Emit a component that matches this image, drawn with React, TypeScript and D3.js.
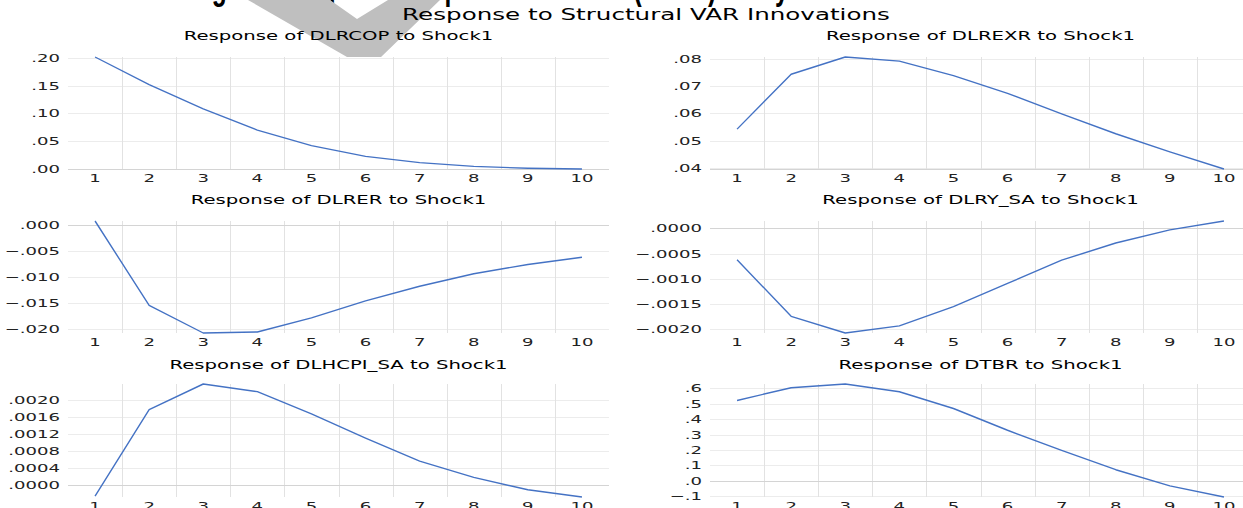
import React, { useEffect, useRef } from "react";
import * as d3 from "d3";

// periods after the shock
const steps = [1, 2, 3, 4, 5, 6, 7, 8, 9, 10];

// impulse responses
const dlrcop = [0.2018, 0.152, 0.108, 0.0697, 0.0418, 0.0224, 0.011, 0.0042, 0.0008, -0.0005];
const dlrexr = [0.0542, 0.0743, 0.0806, 0.0791, 0.0738, 0.0673, 0.0598, 0.0525, 0.0459, 0.0396];
const dlrer = [0.00077, -0.0155, -0.0208, -0.0206, -0.0179, -0.0146, -0.0118, -0.0094, -0.0076, -0.0062];
const dlry = [-0.00062, -0.00174, -0.00207, -0.00193, -0.00155, -0.00109, -0.00063, -0.00029, -0.00003, 0.000145];
const dlhcpi = [-0.00025, 0.00178, 0.00238, 0.0022, 0.00168, 0.00111, 0.00057, 0.00019, -0.0001, -0.00027];
const dtbr = [0.521, 0.604, 0.628, 0.578, 0.469, 0.328, 0.197, 0.072, -0.033, -0.105];

// y tick values
const ticksDlrcop = [0, 0.05, 0.1, 0.15, 0.2];
const ticksDlrexr = [0.04, 0.05, 0.06, 0.07, 0.08];
const ticksDlrer = [-0.02, -0.015, -0.01, -0.005, 0];
const ticksDlry = [-0.002, -0.0015, -0.001, -0.0005, 0];
const ticksDlhcpi = [0, 0.0004, 0.0008, 0.0012, 0.0016, 0.002];
const ticksDtbr = [-0.1, 0, 0.1, 0.2, 0.3, 0.4, 0.5, 0.6];

const panels = [
  { title: "Response of DLRCOP to Shock1", values: dlrcop, ticks: ticksDlrcop, digits: 2 },
  { title: "Response of DLREXR to Shock1", values: dlrexr, ticks: ticksDlrexr, digits: 2 },
  { title: "Response of DLRER to Shock1", values: dlrer, ticks: ticksDlrer, digits: 3 },
  { title: "Response of DLRY_SA to Shock1", values: dlry, ticks: ticksDlry, digits: 4 },
  { title: "Response of DLHCPI_SA to Shock1", values: dlhcpi, ticks: ticksDlhcpi, digits: 4 },
  { title: "Response of DTBR to Shock1", values: dtbr, ticks: ticksDtbr, digits: 1 },
];

const W = 1243;
const H = 508;
const SX = 1.64; // the picture is stretched sideways
const FONT = "DejaVu Sans";
const cols = [68, 710];
const plotW = 541;
const rows = [
  { top: 57, bottom: 169, titleY: 36 },
  { top: 221, bottom: 333, titleY: 200 },
  { top: 384, bottom: 497, titleY: 365 },
];

const fmt = (v, d) => d3.format(`.${d}f`)(v).replace("0.", ".");

export default function App() {
  const ref = useRef(null);

  useEffect(() => {
    const svg = d3.select(ref.current);
    svg.selectAll("*").remove();

    svg.append("rect").attr("width", W).attr("height", H).attr("fill", "#fff");

    // main title, cut off by the top edge
    svg
      .append("text")
      .attr("transform", "translate(190,-1) scale(0.98,1.5)")
      .attr("font-family", "Liberation Sans")
      .attr("font-weight", "bold")
      .attr("font-size", 25)
      .attr("fill", "#000")
      .text("Figure 4: Impulse Response Function (SVAR) Analysis");

    // grey watermark chevron
    svg
      .append("polygon")
      .attr("points", "248,0 330,0 357,19 388,0 440,0 381,57 347,57")
      .attr("fill", "#bfbfbf");

    const stretched = (g, x, y, size, anchor, txt, color = "#000") =>
      g
        .append("text")
        .attr("transform", `translate(${x},${y}) scale(${SX},1)`)
        .attr("text-anchor", anchor)
        .attr("font-family", FONT)
        .attr("font-size", size)
        .attr("fill", color)
        .text(txt);

    panels.forEach((p, i) => {
      const x0 = cols[i % 2];
      const row = rows[Math.floor(i / 2)];
      const g = svg.append("g");

      const x = d3
        .scaleBand()
        .domain(steps.map(String))
        .range([x0, x0 + plotW]);
      const y = d3
        .scaleLinear()
        .domain(d3.extent(p.values))
        .range([row.bottom, row.top]);

      g.append("rect")
        .attr("x", x0)
        .attr("y", row.top)
        .attr("width", plotW)
        .attr("height", row.bottom - row.top)
        .attr("fill", "#fff");

      // horizontal grid
      g.selectAll(".hg")
        .data(p.ticks)
        .enter()
        .append("line")
        .attr("x1", x0)
        .attr("x2", x0 + plotW)
        .attr("y1", (d) => Math.round(y(d)) + 0.5)
        .attr("y2", (d) => Math.round(y(d)) + 0.5)
        .attr("stroke", "#ececec");

      // vertical grid between categories
      g.selectAll(".vg")
        .data(steps.slice(1))
        .enter()
        .append("line")
        .attr("x1", (d) => Math.round(x(String(d))) + 0.5)
        .attr("x2", (d) => Math.round(x(String(d))) + 0.5)
        .attr("y1", row.top)
        .attr("y2", row.bottom)
        .attr("stroke", "#e2e2e2");

      // category axis line
      const dom = y.domain();
      const axisV = dom[0] <= 0 && dom[1] >= 0 ? 0 : dom[0];
      g.append("line")
        .attr("x1", x0)
        .attr("x2", x0 + plotW)
        .attr("y1", Math.round(y(axisV)) + 0.5)
        .attr("y2", Math.round(y(axisV)) + 0.5)
        .attr("stroke", "#d4d4d4")
        .attr("stroke-width", 1.2);

      // the response line
      const line = d3
        .line()
        .x((d, k) => x(String(steps[k])) + x.bandwidth() / 2)
        .y((d) => y(d));
      g.append("path")
        .attr("d", line(p.values))
        .attr("fill", "none")
        .attr("stroke", "#4472c4")
        .attr("stroke-width", 1.4)
        .attr("stroke-linejoin", "round");

      // y tick labels
      p.ticks.forEach((t) => {
        stretched(g, x0 - 8, y(t) + 4, 11, "end", fmt(t, p.digits), "#222");
      });

      // x tick labels
      steps.forEach((s) => {
        stretched(g, x(String(s)) + x.bandwidth() / 2, row.bottom + 13, 11, "middle", String(s), "#222");
      });

      stretched(g, x0 + plotW / 2, row.titleY + 4, 12, "middle", p.title);
    });

    stretched(svg, 646, 20, 15, "middle", "Response to Structural VAR Innovations");
  }, []);

  return (
    <svg
      ref={ref}
      width={W}
      height={H}
      style={{ position: "absolute", left: 0, top: 0 }}
    ></svg>
  );
}
